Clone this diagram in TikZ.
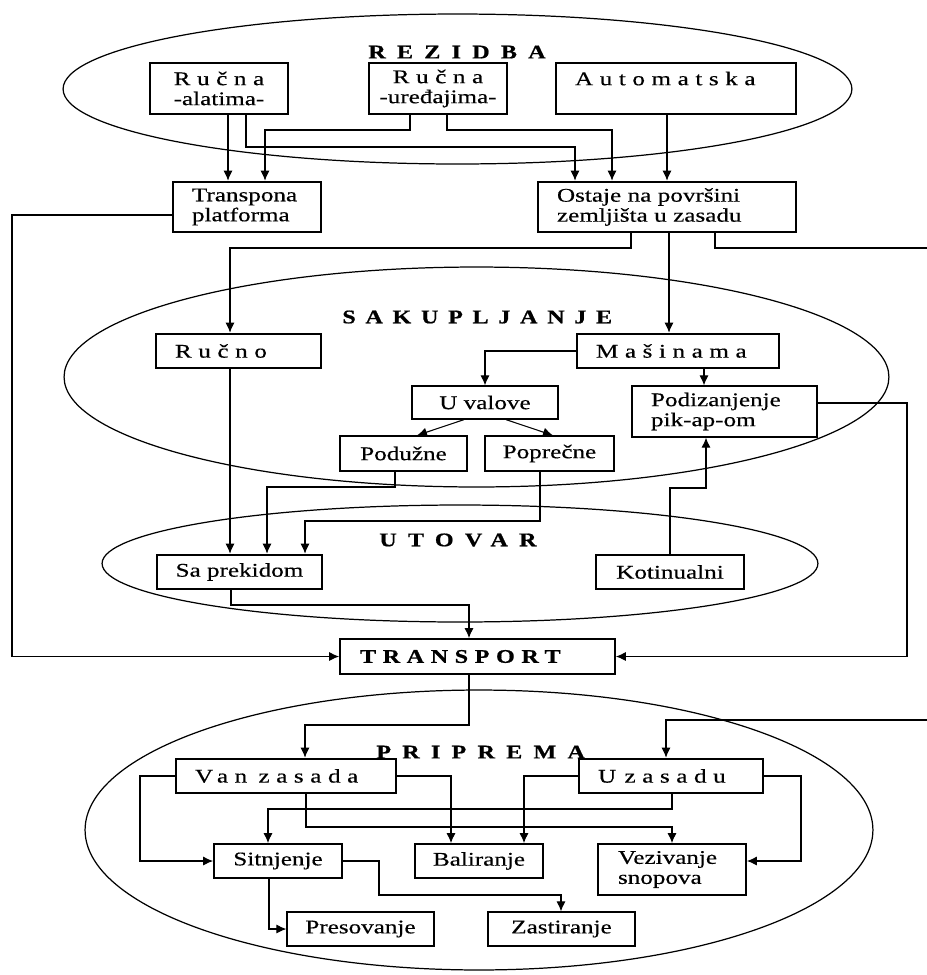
\documentclass[tikz,border=0pt]{standalone}
\usepackage{fontspec}
\setmainfont{Liberation Serif}[FakeStretch=1.3,FakeBold=0.4]
\newfontfamily\spacedfont{Liberation Serif}[FakeStretch=1.3,FakeBold=0.4,LetterSpace=34]
\newfontfamily\titlefont{Liberation Serif}[FakeStretch=1.25,FakeBold=0.8,LetterSpace=58]
\usetikzlibrary{arrows.meta}
\tikzset{
  grp/.style={draw, line width=0.7pt},
  box/.style={draw, fill=white, inner ysep=0pt, inner xsep=0.1cm, font=\fontsize{11}{11.4}\selectfont},
  leftbox/.style={inner xsep=0.38cm, align=left},
  thickbox/.style={box, line width=1.5pt},
  midbox/.style={box, line width=1pt},
  thinbox/.style={box, line width=0.7pt},
  title/.style={font=\titlefont\bfseries\fontsize{11}{13}\selectfont, inner sep=0pt, anchor=west},
  arr/.style={line width=0.6pt, -{Latex[length=2mm,width=1.8mm]}}
}
\begin{document}
\begin{tikzpicture}[x=0.02cm,y=-0.02cm]
\useasboundingbox (0,0) rectangle (927,975);
\clip (0,0) rectangle (927,975);
  % Draw group ellipses
  \draw[grp] (457.5,89) ellipse [x radius=7.89cm, y radius=1.5cm];
  \draw[grp] (476.5,377) ellipse [x radius=8.25cm, y radius=2.2cm];
  \draw[grp] (460,563.5) ellipse [x radius=7.16cm, y radius=1.17cm];
  \draw[grp] (479,830) ellipse [x radius=7.88cm, y radius=2.8cm];
  % Draw group titles
  \node[title] (tRezidba) at (368,52) {REZIDBA};
  \node[title] (tSakupljanje) at (342,317) {\addfontfeature{LetterSpace=50}SAKUPLJANJE};
  \node[title] (tUtovar) at (379,540) {UTOVAR};
  \node[title] (tPriprema) at (376,752) {PRIPREMA};
  % Rezidba
  \node[thickbox, text width=2.56cm, align=center, minimum height=1.02cm] (alatima) at (219,88.5) {{\spacedfont Ručna}\\-alatima-};
  \node[thickbox, text width=2.56cm, align=center, minimum height=1.02cm] (uredjajima) at (438,88.5) {{\spacedfont Ručna}\\-uređajima-};
  \node[thickbox, leftbox, text width=4.04cm, minimum height=1.02cm] (automatska) at (676,88.5) {{\spacedfont Automatska}\\\mbox{}};
  \node[thickbox, leftbox, text width=2.2cm, minimum height=1cm] (transpona) at (247,207) {Transpona\\platforma};
  \node[thickbox, leftbox, text width=4.4cm, minimum height=1cm] (ostaje) at (667,207) {Ostaje na površini\\zemljišta u zasadu};
  % Sakupljanje
  \node[thickbox, leftbox, text width=2.54cm, minimum height=0.68cm] (rucno) at (238.5,351) {\spacedfont Ručno};
  \node[thickbox, leftbox, text width=3.28cm, minimum height=0.68cm] (masinama) at (678,351) {\spacedfont Mašinama};
  \node[thinbox, minimum width=2.92cm, minimum height=0.66cm] (uvalove) at (485,402.5) {U valove};
  \node[thinbox, leftbox, text width=2.94cm, minimum height=1.02cm] (podizanje) at (724.5,411.5) {Podizanjenje\\pik-ap-om};
  \node[thinbox, minimum width=2.54cm, minimum height=0.7cm] (poduzne) at (403.5,453.5) {Podužne};
  \node[thinbox, minimum width=2.58cm, minimum height=0.7cm] (poprecne) at (549.5,453.5) {Poprečne};
  % Utovar
  \node[thickbox, minimum width=3.3cm, minimum height=0.68cm] (saprekidom) at (239.5,572) {Sa prekidom};
  \node[thickbox, minimum width=2.96cm, minimum height=0.68cm] (kotinualni) at (670,572) {Kotinualni};
  % Transport
  \node[midbox, leftbox, inner xsep=0.4cm, text width=4.7cm, minimum height=0.7cm] (transport) at (477.5,656.5) {\titlefont\bfseries\fontsize{11}{13}\selectfont\addfontfeature{LetterSpace=34}TRANSPORT};
  % Priprema
  \node[thickbox, leftbox, text width=3.64cm, minimum height=0.68cm] (vanzasada) at (286,776) {\spacedfont Van \hspace{0.25em}zasada};
  \node[thickbox, leftbox, text width=2.92cm, minimum height=0.68cm] (uzasadu) at (671,776) {\spacedfont U \hspace{0.1em}zasadu};
  \node[midbox, minimum width=2.56cm, minimum height=0.68cm] (sitnjenje) at (278,861) {Sitnjenje};
  \node[midbox, minimum width=2.56cm, minimum height=0.68cm] (baliranje) at (479,861) {Baliranje};
  \node[midbox, leftbox, inner xsep=0.4cm, text width=2.16cm, minimum height=1.02cm] (vezivanje) at (672,869.5) {Vezivanje\\snopova};
  \node[thinbox, minimum width=2.94cm, minimum height=0.68cm] (presovanje) at (360.5,929) {Presovanje};
  \node[thinbox, minimum width=2.94cm, minimum height=0.68cm] (zastiranje) at (561.5,929) {Zastiranje};
  % Connectors from Rezidba
  \draw[arr] (228,0 |- alatima.south) -- (228,0 |- transpona.north);
  \draw[arr] (246,0 |- alatima.south) |- (575,147) -- (575,0 |- ostaje.north);
  \draw[arr] (410,0 |- uredjajima.south) |- (265,130) -- (265,0 |- transpona.north);
  \draw[arr] (447,0 |- uredjajima.south) |- (612,130) -- (612,0 |- ostaje.north);
  \draw[arr] (667,0 |- automatska.south) -- (667,0 |- ostaje.north);
  \draw[arr] (transpona.west |- 0,215) -| (12,0 |- transport.west) -- (transport.west);
  \draw[arr] (631,0 |- ostaje.south) |- (230,248) -- (230,0 |- rucno.north);
  \draw[arr] (669,0 |- ostaje.south) -- (669,0 |- masinama.north);
  \draw[arr] (715,0 |- ostaje.south) |- (940,248) |- (666,720) -- (666,0 |- uzasadu.north);
  % Connectors in Sakupljanje
  \draw[arr] (masinama.west) -| (485,0 |- uvalove.north);
  \draw[arr] (704,0 |- masinama.south) -- (704,0 |- podizanje.north);
  \draw[arr] (464,0 |- uvalove.south) -- (417,0 |- poduzne.north);
  \draw[arr] (506,0 |- uvalove.south) -- (553,0 |- poprecne.north);
  \draw[arr] (podizanje.east |- 0,403) -| (907,0 |- transport.east) -- (transport.east);
  % Connectors to Utovar
  \draw[arr] (230,0 |- rucno.south) -- (230,0 |- saprekidom.north);
  \draw[arr] (395,0 |- poduzne.south) |- (267,487) -- (267,0 |- saprekidom.north);
  \draw[arr] (540,0 |- poprecne.south) |- (305,521) -- (305,0 |- saprekidom.north);
  \draw[arr] (670,0 |- kotinualni.north) |- (706,488) -- (706,0 |- podizanje.south);
  \draw[arr] (231,0 |- saprekidom.south) |- (469,605) -- (469,0 |- transport.north);
  % Connectors in Priprema
  \draw[arr] (469,0 |- transport.south) |- (305,725) -- (305,0 |- vanzasada.north);
  \draw[arr] (vanzasada.west) -| (140,0 |- sitnjenje.west) -- (sitnjenje.west);
  \draw[arr] (vanzasada.east) -| (451,0 |- baliranje.north);
  \draw[arr] (306,0 |- vanzasada.south) |- (672,827) -- (672,0 |- vezivanje.north);
  \draw[arr] (uzasadu.west) -| (524,0 |- baliranje.north);
  \draw[arr] (672,0 |- uzasadu.south) |- (268,809) -- (268,0 |- sitnjenje.north);
  \draw[arr] (uzasadu.east) -| (801,861) -- (vezivanje.east |- 0,861);
  \draw[arr] (sitnjenje.east) -| (379,895) -| (561,0 |- zastiranje.north);
  \draw[arr] (269,0 |- sitnjenje.south) |- (presovanje.west);
\end{tikzpicture}
\end{document}
